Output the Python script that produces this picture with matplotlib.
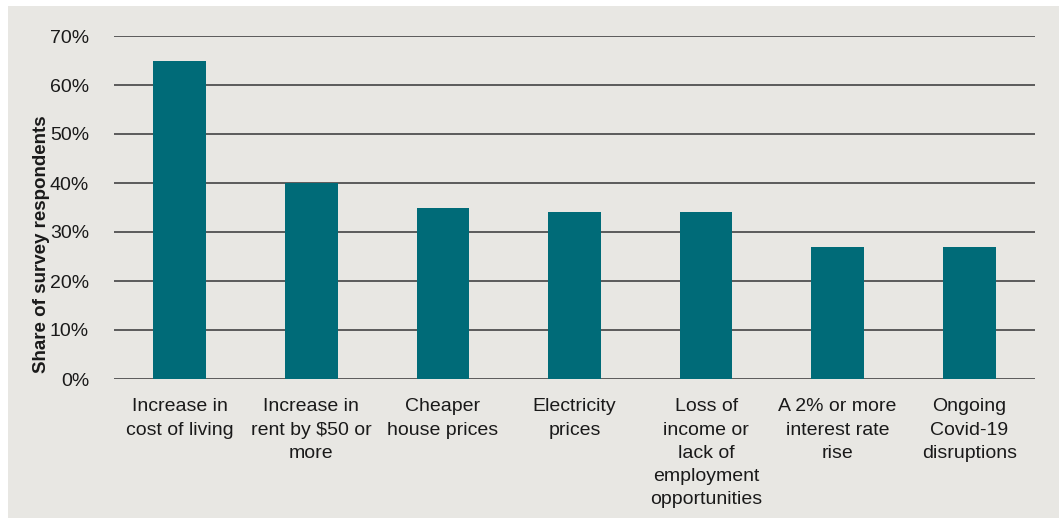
import matplotlib.pyplot as plt
from matplotlib.patches import Rectangle
from matplotlib.ticker import PercentFormatter

categories = ['Increase in\ncost of living', 'Increase in\nrent by $50 or\nmore',
              'Cheaper\nhouse prices', 'Electricity\nprices',
              'Loss of\nincome or\nlack of\nemployment\nopportunities',
              'A 2% or more\ninterest rate\nrise', 'Ongoing\nCovid-19\ndisruptions']
shares = [65, 40, 35, 34, 34, 27, 27]
y_ticks = [0, 10, 20, 30, 40, 50, 60, 70]

BG = '#e8e7e3'
BAR = '#006b78'

plt.rcParams['font.family'] = ['Liberation Sans', 'DejaVu Sans']

fig = plt.figure(figsize=(10.59, 5.18), dpi=100, facecolor='white')
# grey panel with a thin white border on top and left
fig.patches.append(Rectangle((8 / 1059, 0), 1 - 8 / 1059, 1 - 6 / 518,
                             transform=fig.transFigure, facecolor=BG,
                             edgecolor='none', zorder=-10))

ax = fig.add_axes([114 / 1059, 1 - 379 / 518, (1035 - 114) / 1059, (379 - 36) / 518])
ax.set_facecolor('none')

x = range(len(categories))
ax.bar(x, shares, width=0.4, color=BAR, zorder=3)

ax.set_xlim(-0.5, len(categories) - 0.5)
ax.set_ylim(0, 70)
ax.set_yticks(y_ticks)
ax.yaxis.set_major_formatter(PercentFormatter(decimals=0))
ax.grid(axis='y', color='#505050', linewidth=1.3, zorder=1)
ax.set_axisbelow(True)

ax.set_xticks(list(x))
ax.set_xticklabels(categories, fontsize=14, color='#1a1a1a', linespacing=1.47)
ax.tick_params(axis='x', length=0, pad=14)
ax.tick_params(axis='y', length=0, pad=18, labelsize=14, labelcolor='#1a1a1a')

for s in ax.spines.values():
    s.set_visible(False)

fig.text(42 / 1059, 1 - 244 / 518, 'Share of survey respondents', rotation=90,
         ha='center', va='center', fontsize=13.5, fontweight='bold', color='#1a1a1a')

fig.savefig('out.png', dpi=100, facecolor=fig.get_facecolor())
